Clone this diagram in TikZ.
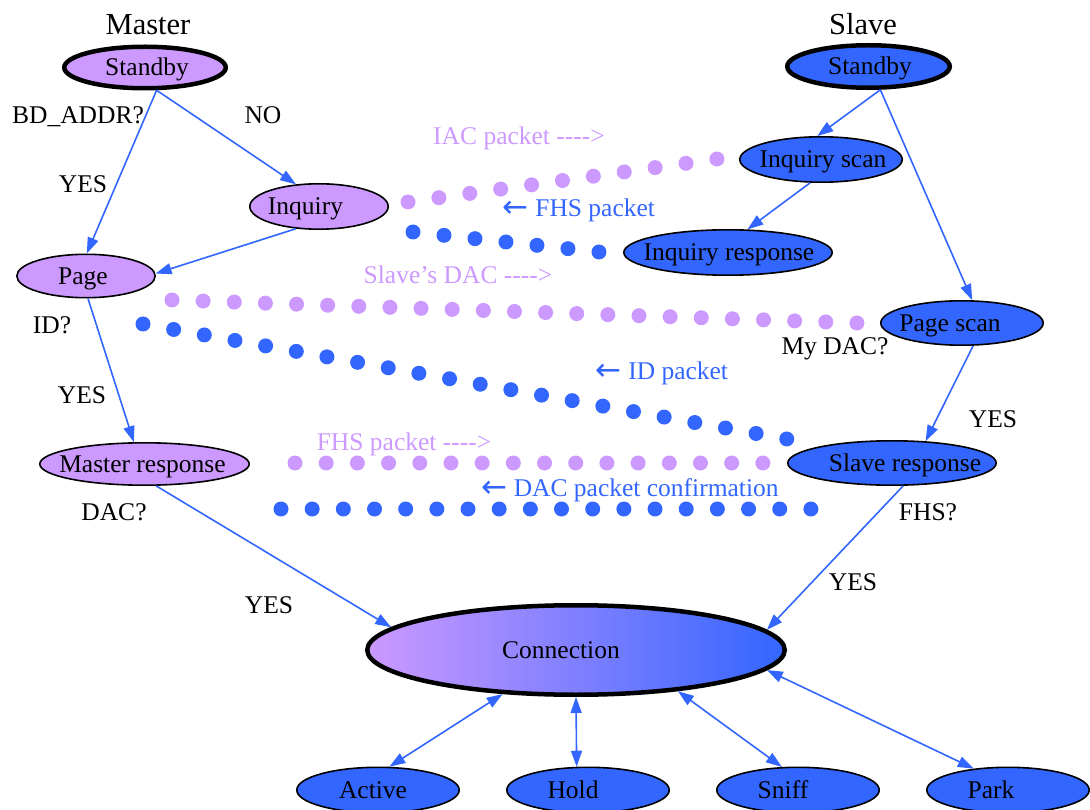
\documentclass[tikz,border=0pt]{standalone}
\usepackage{fontspec}
\setmainfont{Liberation Serif}[Ligatures=TeXOff]
\newfontfamily\arrowfont{DejaVu Sans}
\usetikzlibrary{arrows.meta,shapes.geometric}
\definecolor{lav}{HTML}{CC99FF}
\definecolor{bblue}{HTML}{3366FF}
\newcommand\labelfont{\fontsize{25.5}{30}\selectfont}
\newcommand\headfont{\fontsize{30.5}{36}\selectfont}
\newcommand\back{\raisebox{-1pt}{\arrowfont\fontsize{31}{34}\selectfont ←}}
% zero-width label box, text nudged sideways by half of #1
\newcommand\offtext[2]{\hbox to 0pt{\hss\kern#1\relax#2\hss}}
\begin{document}
\begin{tikzpicture}[x=1pt, y=-1pt,
  state/.style={ellipse, draw=black, line width=1.6pt, inner sep=0pt,
    text height=19pt, text depth=2pt, font=\labelfont},
  mstate/.style={state, fill=lav},
  sstate/.style={state, fill=bblue},
  heavy/.style={line width=4.5pt},
  flow/.style={draw=bblue, line width=1.6pt, -{Triangle[length=16pt,width=11pt]}},
  twoway/.style={draw=bblue, line width=1.6pt,
    {Triangle[length=16pt,width=11pt]}-{Triangle[length=16pt,width=11pt]}},
  lab/.style={anchor=base, inner sep=0pt, font=\labelfont},
  head/.style={anchor=base, inner sep=0pt, font=\headfont},
  dotrow/.style={line width=15pt, line cap=round, dash pattern=on 0pt off #1},
]
\useasboundingbox (0,0) rectangle (1090,810);

% headers
\node[head] (hmaster) at (148,35) {Master};
\node[head] (hslave) at (863,35) {Slave};

% master side
\node[mstate, heavy, minimum width=161.5pt, minimum height=41.5pt] (ms) at (145,67.5) {\offtext{4pt}{Standby}};
\node[mstate, minimum width=138.4pt, minimum height=45.4pt] (inq) at (319,206.5) {\offtext{-27pt}{Inquiry}};
\node[mstate, minimum width=138.4pt, minimum height=43.4pt] (page) at (86,276) {\offtext{-6pt}{Page}};
\node[mstate, minimum width=209.4pt, minimum height=42.4pt] (mresp) at (144.5,464) {\offtext{-4pt}{Master response}};

% slave side
\node[sstate, heavy, minimum width=162.5pt, minimum height=42.5pt] (ss) at (868.5,66.5) {\offtext{3pt}{Standby}};
\node[sstate, minimum width=162.4pt, minimum height=45.4pt] (iscan) at (821,159.5) {\offtext{4pt}{Inquiry scan}};
\node[sstate, minimum width=208.4pt, minimum height=45.4pt] (iresp) at (728,252.5) {\offtext{2pt}{Inquiry response}};
\node[sstate, minimum width=162.4pt, minimum height=44.4pt] (pscan) at (962,323) {\offtext{-24pt}{Page scan}};
\node[sstate, minimum width=208.4pt, minimum height=44.4pt] (sresp) at (892,463) {\offtext{26pt}{Slave response}};

% connection and its modes
\node[state, heavy, left color=lav, right color=bblue, minimum width=417.5pt, minimum height=89.5pt] (conn) at (576,650) {\offtext{-30pt}{Connection}};
\node[sstate, minimum width=162.4pt, minimum height=45.4pt] (active) at (378,790) {\offtext{-10pt}{Active}};
\node[sstate, minimum width=162.4pt, minimum height=45.4pt] (hold) at (588,790) {\offtext{-30pt}{Hold}};
\node[sstate, minimum width=162.4pt, minimum height=45.4pt] (sniff) at (798,790) {\offtext{-30pt}{Sniff}};
\node[sstate, minimum width=162.4pt, minimum height=45.4pt] (park) at (1008,790) {\offtext{-34pt}{Park}};

% state transitions
\draw[flow] (ms.-63) -- (page.88);
\draw[flow] (ms.-63) -- (inq.136);
\draw[flow] (inq.224) -- (page.2);
\draw[flow] (page.-85) -- (mresp.116);
\draw[flow] (mresp.-62) -- (conn.173.5);
\draw[flow] (ss.-63) -- (iscan.99);
\draw[flow] (ss.-63) -- (pscan.66);
\draw[flow] (iscan.-115) -- (iresp.50);
\draw[flow] (pscan.-64) -- (sresp.33);
\draw[flow] (sresp.-64) -- (conn.6.5);
\draw[twoway] (conn.211) -- (active.64);
\draw[twoway] (conn.south) -- (hold.116);
\draw[twoway] (conn.-22.6) -- (sniff.125);
\draw[twoway] (conn.-6.5) -- (park.148);

% decision labels
\node[lab] (q1) at (78,124) {BD\_ADDR?};
\node[lab] (q1no) at (263,124) {NO};
\node[lab] (q1yes) at (83,193) {YES};
\node[lab] (q2) at (52,334) {ID?};
\node[lab] (q2yes) at (82,403) {YES};
\node[lab] (q3) at (114,520) {DAC?};
\node[lab] (q3yes) at (269,613) {YES};
\node[lab] (q4) at (835,355) {My DAC?};
\node[lab] (q4yes) at (993,427) {YES};
\node[lab] (q5) at (928,520) {FHS?};
\node[lab] (q5yes) at (853,590) {YES};

% packet exchange
\coordinate (iacA) at (408,202);  \coordinate (iacB) at (717,159);
\coordinate (fhsA) at (413,232);  \coordinate (fhsB) at (599,252);
\coordinate (sdacA) at (172,300); \coordinate (sdacB) at (857,323);
\coordinate (idA) at (143,324);   \coordinate (idB) at (787,439);
\coordinate (mfhsA) at (295,463); \coordinate (mfhsB) at (763,463);
\coordinate (dacA) at (281,509);  \coordinate (dacB) at (811,509);
\draw[dotrow=31.19pt, lav] (iacA) -- (iacB);
\draw[dotrow=31.17pt, bblue] (fhsA) -- (fhsB);
\draw[dotrow=31.15pt, lav] (sdacA) -- (sdacB);
\draw[dotrow=31.14pt, bblue] (idA) -- (idB);
\draw[dotrow=31.19pt, lav] (mfhsA) -- (mfhsB);
\draw[dotrow=31.17pt, bblue] (dacA) -- (dacB);

\node[lab, text=lav] (p1) at (519,145) {IAC packet ---->};
\node[lab, text=bblue] (p2) at (579,217) {\back\ FHS packet};
\node[lab, text=lav] (p3) at (458,284) {Slave’s DAC ---->};
\node[lab, text=bblue] (p4) at (662,380) {\back\ ID packet};
\node[lab, text=lav] (p5) at (404,450) {FHS packet ---->};
\node[lab, text=bblue] (p6) at (630,496) {\back\ DAC packet confirmation};
\end{tikzpicture}
\end{document}
